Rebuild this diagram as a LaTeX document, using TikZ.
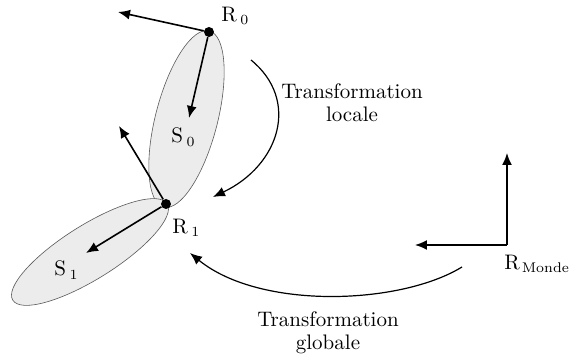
\documentclass[tikz,border=0pt]{standalone}
\usetikzlibrary{arrows.meta,positioning}
\begin{document}
\begin{tikzpicture}[x=0.5pt,y=-0.5pt,
  joint/.style={circle,fill=black,inner sep=0pt,minimum size=5pt},
  axis/.style={-{Latex[length=6pt,width=5pt]},line width=0.8pt},
  transfo/.style={-{Latex[length=6pt,width=5pt]},line width=0.6pt},
  segment/.style={draw=gray!70!black,fill=gray!15,line width=0.3pt},
  lbl/.style={inner sep=0pt,anchor=west,font=\fontsize{10.5}{12}\selectfont},
  txt/.style={align=center,inner sep=0pt,font=\fontsize{10.5}{11.5}\selectfont}]
   \useasboundingbox (0,0) rectangle (570,362);
   % the two segments
   \draw[segment,shift={(186.5,119)},rotate=-14.5] (0,0) ellipse (31 and 91);
   \draw[segment,shift={(90,252)},rotate=32] (0,0) ellipse (91 and 27);
   % joints and frame ends
   \node[joint] (R0) at (209,32) {};
   \node[joint] (R1) at (166,204) {};
   \coordinate (x0) at (118,12);
   \coordinate (y0) at (189,118);
   \coordinate (x1) at (119,126);
   \coordinate (y1) at (86,253);
   \coordinate (Om) at (507,245);
   \coordinate (xm) at (415,245);
   \coordinate (ym) at (507,153);
   \node[lbl] (lR0) at (221,16) {R\,$_0$};
   \node[lbl] (lR1) at (172,228) {R\,$_1$};
   \node[lbl] (lS0) at (171,137) {S\,$_0$};
   \node[lbl] (lS1) at (54,270) {S\,$_1$};
   \node[lbl] (lRm) at (504,264) {R\kern1pt$_{\mathrm{Monde}}$};
    \path[axis]
    (R0) edge (x0)
         edge (y0)
    (R1) edge (x1)
         edge (y1)
    (Om) edge (xm)
         edge (ym);
   % transformations
   \coordinate (l0) at (251,60);
   \coordinate (l1) at (213,197);
   \coordinate (g0) at (462,267);
   \coordinate (g1) at (190,253);
   \draw[transfo] (l0) .. controls (300,100) and (280,165) .. (l1);
   \draw[transfo] (g0) .. controls (400,305) and (260,310) .. (g1);
   \node[txt] (loc) at (352,103) {Transformation\\locale};
   \node[txt] (glob) at (328,333) {Transformation\\globale};
\end{tikzpicture}
\end{document}
